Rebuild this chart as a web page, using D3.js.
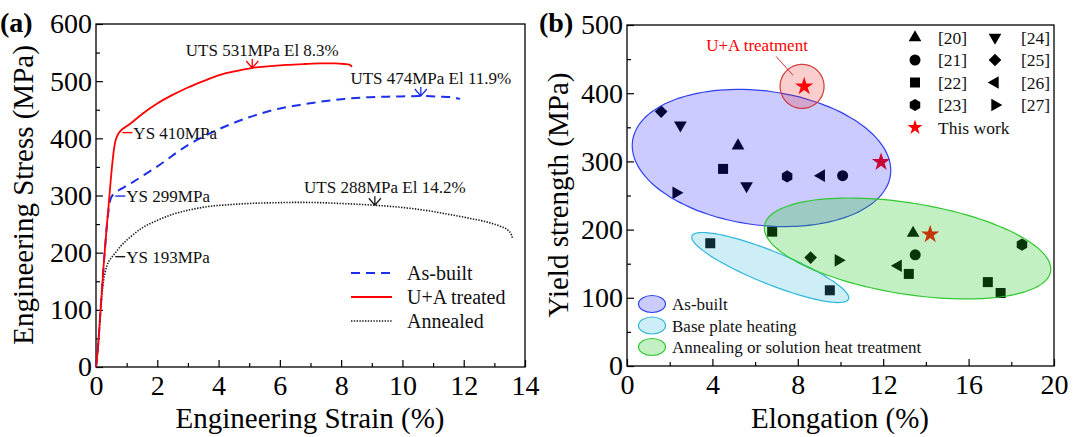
<!DOCTYPE html>
<html>
<head>
<meta charset="utf-8">
<script src="https://cdn.jsdelivr.net/npm/d3@7"></script>
<style>
  body { margin: 0; background: #fff; }
  svg { display: block; font-family: 'Liberation Serif', 'Times New Roman', Times, serif; }
</style>
</head>
<body>
<svg id="fig" width="1075" height="437"></svg>
<script>
// ---------- Panel (a): engineering stress–strain curves ----------
const strainTicks = [0, 2, 4, 6, 8, 10, 12, 14];
const strainMinor = [1, 3, 5, 7, 9, 11, 13];
const stressTicks = [0, 100, 200, 300, 400, 500, 600];
const stressMinor = [50, 150, 250, 350, 450, 550];

const seriesNames = ["As-built", "U+A treated", "Annealed"];

const asBuiltStrain = [0, 0.05, 0.1, 0.15, 0.2, 0.25, 0.3, 0.35, 0.4, 0.45, 0.5, 0.6, 0.8, 1.0, 1.22, 1.6, 1.98, 2.3, 2.63, 3.0, 3.39, 3.8, 4.27, 5.0, 5.9, 6.6, 7.31, 8.1, 8.94, 9.6, 10.14, 10.6, 11.2, 11.6, 11.88];
const asBuiltStress = [0, 25, 60, 100, 140, 178, 212, 245, 270, 288, 297, 303, 311, 317, 324, 337, 350, 362, 375, 388, 400, 411, 422, 437, 451, 458, 464, 469, 472, 473, 473.5, 474, 473, 472, 469];

const uaStrain = [0, 0.05, 0.1, 0.15, 0.2, 0.25, 0.3, 0.35, 0.4, 0.47, 0.55, 0.62, 0.7, 0.8, 1.0, 1.22, 1.54, 2.0, 2.5, 3.0, 3.5, 4.05, 4.6, 5.08, 5.6, 6.22, 6.8, 7.31, 7.8, 8.1, 8.29, 8.35];
const uaStress = [0, 25, 60, 100, 140, 178, 212, 245, 275, 320, 365, 392, 405, 413, 421, 430, 444, 461, 476, 489, 500, 511, 518, 523, 526, 528.5, 530, 531, 531, 530, 528.5, 525];

const annealedStrain = [0, 0.05, 0.1, 0.15, 0.2, 0.25, 0.3, 0.35, 0.4, 0.5, 0.62, 0.8, 1.11, 1.5, 1.98, 2.5, 3.07, 3.7, 4.37, 5.2, 6.0, 6.6, 7.3, 8.0, 9.1, 10.0, 11.0, 11.5, 12.2, 12.8, 13.2, 13.45, 13.55, 13.6];
const annealedStress = [0, 25, 60, 100, 130, 152, 166, 176, 183, 191, 199, 211, 227, 243, 256, 267, 275, 281, 284, 286.5, 287.5, 288, 287.5, 286, 283, 279, 272, 267, 260, 253, 246, 239, 232, 224];

// yield strength, ultimate strength, elongation and where the UTS arrow sits
const ysValues = [299, 410, 193];
const utsValues = [474, 531, 288];
const elValues = [11.9, 8.3, 14.2];
const utsMarkStrain = [10.6, 5.1, 9.1];

// ---------- Panel (b): yield strength vs elongation ----------
const elongTicks = [0, 4, 8, 12, 16, 20];
const elongMinor = [2, 6, 10, 14, 18];
const yieldTicks = [0, 100, 200, 300, 400, 500];
const yieldMinor = [50, 150, 250, 350, 450];

const refLabels = ["[20]", "[21]", "[22]", "[23]", "[24]", "[25]", "[26]", "[27]"];
const refShapes = ["triUp", "circle", "square", "hexagon", "triDown", "diamond", "triLeft", "triRight"];

const litRef = ["[20]", "[20]", "[21]", "[21]", "[22]", "[22]", "[22]", "[22]", "[22]", "[22]", "[22]", "[23]", "[23]", "[24]", "[24]", "[25]", "[25]", "[26]", "[26]", "[27]", "[27]"];
const litElong = [5.2, 13.4, 10.1, 13.5, 4.5, 6.8, 3.9, 9.5, 13.2, 16.9, 17.5, 7.5, 18.5, 2.5, 5.6, 1.6, 8.6, 9.1, 12.7, 2.3, 9.9];
const litYield = [323, 195, 279, 163, 289, 197, 180, 111, 135, 123, 107, 278, 178, 353, 264, 373, 159, 279, 147, 254, 155];

const workElong = [8.3, 11.9, 14.2];
const workYield = [410, 299, 193];

// process windows: centre plus two conjugate half-axes, all in data units
const regionNames = ["As-built", "Base plate heating", "Annealing or solution heat treatment"];
const regionCentre = [[6.30, 305], [6.71, 144.4], [13.14, 172.3]];
const regionAxisU = [[6.04, -24.7], [3.666, -46.3], [6.70, -33.5]];
const regionAxisV = [[-0.407, -97.5], [-0.286, -22.2], [-0.337, -66.0]];
const highlightCentre = [8.2, 410];
const highlightAxisU = [1.03, 0];
const highlightAxisV = [0, -32.3];

// ---------- drawing ----------
const serif = "'Liberation Serif', 'Times New Roman', Times, serif";
const svg = d3.select("#fig");

const xA = d3.scaleLinear().domain([0, 14]).range([96, 525]);
const yA = d3.scaleLinear().domain([0, 600]).range([367, 24]);
const xB = d3.scaleLinear().domain([0, 20]).range([627, 1054]);
const yB = d3.scaleLinear().domain([0, 500]).range([366, 25]);

const tickFont = 28;
const titleFont = 29;

function drawFrame(x, y, xMajor, xMinor, yMajor, yMinor) {
  const [x0, x1] = x.range();
  const [y0, y1] = y.range();
  const g = svg.append("g");
  const clean = s => s.call(a => a.select(".domain").remove())
    .attr("font-family", serif).attr("font-size", tickFont);

  g.append("g").attr("transform", `translate(0,${y0})`)
    .call(d3.axisBottom(x).tickValues(xMinor).tickSize(-4).tickFormat(""))
    .call(clean);
  g.append("g").attr("transform", `translate(${x0},0)`)
    .call(d3.axisLeft(y).tickValues(yMinor).tickSize(-4).tickFormat(""))
    .call(clean);
  g.append("g").attr("transform", `translate(0,${y0})`)
    .call(d3.axisBottom(x).tickValues(xMajor).tickSizeInner(-7).tickSizeOuter(0)
      .tickPadding(8).tickFormat(d3.format("d")))
    .call(clean);
  g.append("g").attr("transform", `translate(${x0},0)`)
    .call(d3.axisLeft(y).tickValues(yMajor).tickSizeInner(-7).tickSizeOuter(0)
      .tickPadding(4).tickFormat(d3.format("d")))
    .call(clean);
  g.selectAll(".tick line").attr("stroke-width", 1.2);
  g.selectAll(".tick text").attr("fill", "#000");

  g.append("rect")
    .attr("x", x0).attr("y", y1).attr("width", x1 - x0).attr("height", y0 - y1)
    .attr("fill", "none").attr("stroke", "#000").attr("stroke-width", 1.3);
  return g;
}

// ----- panel (a)
drawFrame(xA, yA, strainTicks, strainMinor, stressTicks, stressMinor);

const curves = [
  { strain: asBuiltStrain, stress: asBuiltStress, color: "#1b30e8", width: 2, dash: "9,6" },
  { strain: uaStrain, stress: uaStress, color: "#ff0000", width: 1.8, dash: null },
  { strain: annealedStrain, stress: annealedStress, color: "#1a1a1a", width: 1.6, dash: "1.4,1.4" }
];

const curveLine = d3.line().x(d => xA(d[0])).y(d => yA(d[1])).curve(d3.curveMonotoneX);
const gA = svg.append("g");
[2, 0, 1].forEach(i => {
  const c = curves[i];
  gA.append("path")
    .attr("d", curveLine(d3.zip(c.strain, c.stress)))
    .attr("fill", "none").attr("stroke", c.color)
    .attr("stroke-width", c.width)
    .attr("stroke-dasharray", c.dash);
});

// stress on a curve at a given strain
function stressAt(c, e) {
  const i = d3.bisectLeft(c.strain, e);
  if (i <= 0) return c.stress[0];
  if (i >= c.strain.length) return c.stress[c.stress.length - 1];
  const t = (e - c.strain[i - 1]) / (c.strain[i] - c.strain[i - 1]);
  return c.stress[i - 1] + t * (c.stress[i] - c.stress[i - 1]);
}
// strain at which the rising part of a curve first reaches a stress
function strainAtStress(c, s) {
  for (let i = 1; i < c.stress.length; i++) {
    if (c.stress[i] >= s) {
      const t = (s - c.stress[i - 1]) / (c.stress[i] - c.stress[i - 1]);
      return c.strain[i - 1] + t * (c.strain[i] - c.strain[i - 1]);
    }
  }
  return c.strain[c.strain.length - 1];
}

curves.forEach((c, i) => {
  // yield strength call-out
  const ex = xA(strainAtStress(c, ysValues[i]));
  const ey = yA(ysValues[i]);
  gA.append("line")
    .attr("x1", ex + 3).attr("x2", ex + 13).attr("y1", ey).attr("y2", ey)
    .attr("stroke", c.color).attr("stroke-width", 1.4);
  gA.append("text")
    .attr("x", ex + 14).attr("y", ey + 6)
    .attr("font-size", 17).attr("fill", "#111")
    .text(`YS ${ysValues[i]}MPa`);

  // ultimate strength arrow
  const ux = xA(utsMarkStrain[i]);
  const uy = yA(stressAt(c, utsMarkStrain[i]));
  gA.append("path")
    .attr("d", `M${ux - 6},${uy - 7}L${ux},${uy}L${ux + 6},${uy - 7}M${ux},${uy}L${ux},${uy - 9}`)
    .attr("fill", "none").attr("stroke", c.color).attr("stroke-width", 1.3);
  gA.append("text")
    .attr("x", ux + 10).attr("y", uy - 12)
    .attr("text-anchor", "middle")
    .attr("font-size", 17).attr("fill", "#111")
    .text(`UTS ${utsValues[i]}MPa El ${elValues[i]}%`);
});

// legend (a)
const legA = svg.append("g");
seriesNames.forEach((name, i) => {
  const c = curves[i];
  const ly = 273 + i * 24;
  legA.append("line")
    .attr("x1", 351).attr("x2", 392).attr("y1", ly).attr("y2", ly)
    .attr("stroke", c.color).attr("stroke-width", c.width)
    .attr("stroke-dasharray", c.dash);
  legA.append("text")
    .attr("x", 407).attr("y", ly + 7)
    .attr("font-size", 20).attr("fill", "#111")
    .text(name);
});

// titles (a)
svg.append("text").attr("x", 310).attr("y", 428)
  .attr("text-anchor", "middle").attr("font-size", titleFont).text("Engineering Strain (%)");
svg.append("text").attr("transform", "translate(33,195) rotate(-90)")
  .attr("text-anchor", "middle").attr("font-size", titleFont).text("Engineering Stress (MPa)");
svg.append("text").attr("x", 0).attr("y", 32)
  .attr("font-size", 28).attr("font-weight", "bold").text("(a)");

// ----- panel (b)
drawFrame(xB, yB, elongTicks, elongMinor, yieldTicks, yieldMinor);

// custom marker shapes
function tri(angle) {
  return {
    draw(ctx, size) {
      const r = Math.sqrt(size / (3 * Math.sqrt(3) / 4));
      for (let k = 0; k < 3; k++) {
        const a = angle + k * 2 * Math.PI / 3;
        const px = r * Math.cos(a), py = r * Math.sin(a);
        k ? ctx.lineTo(px, py) : ctx.moveTo(px, py);
      }
      ctx.closePath();
    }
  };
}
const hexagon = {
  draw(ctx, size) {
    const r = Math.sqrt(size / (3 * Math.sqrt(3) / 2));
    for (let k = 0; k < 6; k++) {
      const a = -Math.PI / 2 + k * Math.PI / 3;
      const px = r * Math.cos(a), py = r * Math.sin(a);
      k ? ctx.lineTo(px, py) : ctx.moveTo(px, py);
    }
    ctx.closePath();
  }
};
const diamond = {
  draw(ctx, size) {
    const r = Math.sqrt(size / 2);
    ctx.moveTo(0, -r); ctx.lineTo(r, 0); ctx.lineTo(0, r); ctx.lineTo(-r, 0); ctx.closePath();
  }
};
const shapeTypes = {
  triUp: [tri(-Math.PI / 2), 70],
  triDown: [tri(Math.PI / 2), 70],
  triLeft: [tri(Math.PI), 70],
  triRight: [tri(0), 70],
  circle: [d3.symbolCircle, 95],
  square: [d3.symbolSquare, 100],
  hexagon: [hexagon, 95],
  diamond: [diamond, 80]
};
function shapeOf(ref) {
  const s = shapeTypes[refShapes[refLabels.indexOf(ref)]];
  return d3.symbol().type(s[0]).size(s[1])();
}

const gB = svg.append("g");
litRef.forEach((ref, i) => {
  gB.append("path")
    .attr("transform", `translate(${xB(litElong[i])},${yB(litYield[i])})`)
    .attr("d", shapeOf(ref)).attr("fill", "#000");
});
workElong.forEach((e, i) => {
  gB.append("path")
    .attr("transform", `translate(${xB(e)},${yB(workYield[i])})`)
    .attr("d", d3.symbol().type(d3.symbolStar).size(105)()).attr("fill", "#ff0000");
});

// translucent process windows over the markers
const regionStyle = [
  { fill: "#1010ff", op: 0.22, stroke: "#3040ee" },
  { fill: "#30b8dc", op: 0.24, stroke: "#30b8dc" },
  { fill: "#20c820", op: 0.27, stroke: "#30c830" }
];
function ellipseD(c, u, v) {
  const pts = d3.range(0, 360, 3).map(a => {
    const t = a * Math.PI / 180;
    return [c[0] + u[0] * Math.cos(t) + v[0] * Math.sin(t),
            c[1] + u[1] * Math.cos(t) + v[1] * Math.sin(t)];
  });
  return d3.line().x(p => xB(p[0])).y(p => yB(p[1])).curve(d3.curveCardinalClosed)(pts);
}
[0, 1, 2].forEach(i => {
  gB.append("path")
    .attr("d", ellipseD(regionCentre[i], regionAxisU[i], regionAxisV[i]))
    .attr("fill", regionStyle[i].fill).attr("fill-opacity", regionStyle[i].op)
    .attr("stroke", regionStyle[i].stroke).attr("stroke-width", 1.2);
});
gB.append("path")
  .attr("d", ellipseD(highlightCentre, highlightAxisU, highlightAxisV))
  .attr("fill", "#ee2020").attr("fill-opacity", 0.22)
  .attr("stroke", "#d43c3c").attr("stroke-width", 1.2);

// call-out for the treated sample
const hx = xB(highlightCentre[0]), hy = yB(highlightCentre[1]);
gB.append("line")
  .attr("x1", hx - 26).attr("y1", hy - 30).attr("x2", hx - 9).attr("y2", hy - 11)
  .attr("stroke", "#e03030").attr("stroke-width", 1);
gB.append("text")
  .attr("x", hx - 45).attr("y", hy - 35)
  .attr("text-anchor", "middle").attr("font-size", 17).attr("fill", "#ff0000")
  .text("U+A treatment");

// legend (b): references
const legB = svg.append("g");
const refRows = refLabels.map((r, i) => ({ ref: r, col: i < 4 ? 0 : 1, row: i % 4 }));
refRows.forEach(d => {
  const mx = d.col ? 995 : 915;
  const my = 37.5 + d.row * 22.5;
  legB.append("path").attr("transform", `translate(${mx},${my})`)
    .attr("d", shapeOf(d.ref)).attr("fill", "#000");
  legB.append("text").attr("x", d.col ? 1021 : 938).attr("y", my + 6)
    .attr("font-size", 17.5).attr("fill", "#111").text(d.ref);
});
legB.append("path").attr("transform", `translate(915,${37.5 + 4 * 22.5})`)
  .attr("d", d3.symbol().type(d3.symbolStar).size(70)()).attr("fill", "#ff0000");
legB.append("text").attr("x", 938).attr("y", 37.5 + 4 * 22.5 + 6)
  .attr("font-size", 17.5).attr("fill", "#111").text("This work");

// legend (b): process windows
regionNames.forEach((name, i) => {
  const ly = 304 + i * 21.5;
  legB.append("ellipse").attr("cx", 652).attr("cy", ly).attr("rx", 13.5).attr("ry", 8.5)
    .attr("fill", regionStyle[i].fill).attr("fill-opacity", regionStyle[i].op)
    .attr("stroke", regionStyle[i].stroke).attr("stroke-width", 1.2);
  legB.append("text").attr("x", 672).attr("y", ly + 6)
    .attr("font-size", 17).attr("fill", "#111").text(name);
});

// titles (b)
svg.append("text").attr("x", 840).attr("y", 428)
  .attr("text-anchor", "middle").attr("font-size", titleFont).text("Elongation (%)");
svg.append("text").attr("transform", "translate(568,195) rotate(-90)")
  .attr("text-anchor", "middle").attr("font-size", titleFont).text("Yield strength (MPa)");
svg.append("text").attr("x", 539).attr("y", 32)
  .attr("font-size", 28).attr("font-weight", "bold").text("(b)");
</script>
</body>
</html>
